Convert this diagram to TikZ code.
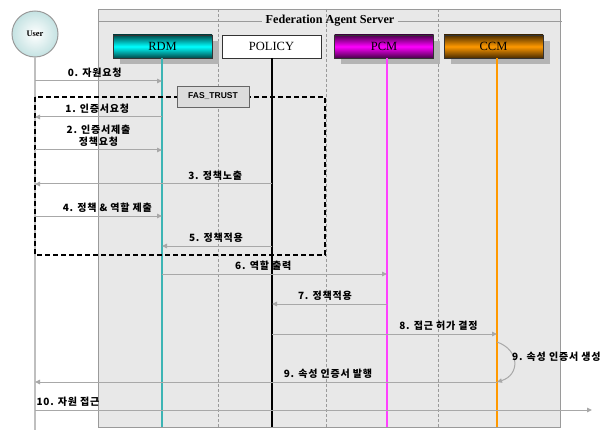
\documentclass[tikz,border=0pt]{standalone}
\usepackage{fontspec}
\setmainfont{Liberation Serif}
\newfontfamily\cjk{Noto Sans CJK KR}[LetterSpace=8]
\newfontfamily\lsans{Liberation Sans}
\usetikzlibrary{arrows.meta}
\definecolor{srvbg}{HTML}{E8E8E8}
\definecolor{srvline}{HTML}{9A9A9A}
\definecolor{msggray}{HTML}{A8A8A8}
\definecolor{shadowgray}{HTML}{B4B4B4}
\definecolor{rdmline}{HTML}{3CB4B4}
\definecolor{pcmline}{HTML}{FF40FF}
\definecolor{ccmline}{HTML}{FF9900}
\definecolor{rdmdark}{HTML}{004A4A}
\definecolor{pcmdark}{HTML}{4A004A}
\definecolor{ccmdark}{HTML}{4A2C00}
\definecolor{userfill}{HTML}{C4E2E2}
\definecolor{fasfill}{HTML}{DCDCDC}
\tikzset{
  msg/.style={draw=msggray, line width=1pt, -{Triangle[length=5pt,width=4.5pt]}},
  lbl/.style={font=\cjk\bfseries\fontsize{10}{12}\selectfont, inner sep=1pt, above=2pt, text=black},
  compbox/.style={minimum width=99pt, minimum height=23pt, inner sep=0pt, draw=black!80, line width=0.8pt, font=\fontsize{12.5}{14}\selectfont},
  shadowbox/.style={fill=shadowgray, draw=none},
  sep/.style={draw=srvline, dashed, dash pattern=on 3pt off 2pt, line width=0.6pt},
  trustbox/.style={draw=black, dashed, dash pattern=on 5pt off 3pt, line width=1.2pt}
}
\begin{document}
\begin{tikzpicture}[x=1pt, y=-1pt]
\useasboundingbox (0,0) rectangle (609,430);
% server background
\draw[fill=srvbg, draw=srvline, line width=0.8pt] (98,9) rectangle (560,427);
\foreach \xx in {218,326,438} \draw[sep] (\xx,9) -- (\xx,427);
\node[font=\bfseries\fontsize{12.2}{14}\selectfont, inner sep=3pt] (title) at (330,21) {Federation Agent Server};
\draw[srvline, line width=0.8pt] (99,21) -- (title.west);
\draw[srvline, line width=0.8pt] (title.east) -- (562,21);
% shadows
\fill[shadowgray] (119.5,41) rectangle (218.5,64);
\fill[shadowgray] (341,41) rectangle (440,64);
\fill[shadowgray] (451,41) rectangle (550,64);
% components
\node[compbox, shading=axis, top color=rdmdark, bottom color=rdmdark, middle color=cyan] (rdm) at (162.5,46.5) {RDM};
\node[compbox, fill=white] (pol) at (271.5,46.5) {POLICY};
\node[compbox, shading=axis, top color=pcmdark, bottom color=pcmdark, middle color=magenta] (pcm) at (384,46.5) {PCM};
\node[compbox, shading=axis, top color=ccmdark, bottom color=ccmdark, middle color=ccmline] (ccm) at (493.5,46.5) {CCM};
% user
\node[circle, minimum size=46pt, inner sep=0pt, draw=srvline, line width=1pt, inner color=white, outer color=userfill, font=\bfseries\fontsize{8.5}{10}\selectfont] (user) at (35,34) {User};
% lifeline anchors
\coordinate (Lu) at (35,58);
\coordinate (Lr) at (162,58);
\coordinate (Lp) at (272,58);
\coordinate (Lm) at (387,58);
\coordinate (Lc) at (497,58);
\draw[draw=black!25, line width=1.5pt] (user.south) -- (35,430);
\draw[rdmline, line width=1.5pt] (Lr) -- (162,427);
\draw[black, line width=1.2pt] (Lp) -- (272,427);
\draw[pcmline, line width=1.5pt] (Lm) -- (387,427);
\draw[ccmline, line width=1.5pt] (Lc) -- (497,427);
% trust region
\draw[trustbox] (35,97) rectangle (325,255);
\node[draw=black!60, fill=fasfill, line width=0.8pt, minimum width=72pt, minimum height=21pt, inner sep=0pt, font=\lsans\bfseries\fontsize{8.5}{10}\selectfont] (fas) at (213,96.5) {FAS\_TRUST};
% messages
\draw[msg] (Lu |- 0,81) -- node[lbl, pos=0.47] {0. 자원요청} (Lr |- 0,81);
\draw[msg] (Lr |- 0,117) -- node[lbl, pos=0.51] {1. 인증서요청} (Lu |- 0,117);
\draw[msg] (Lu |- 0,150) -- node[lbl, pos=0.5, align=center] {2. 인증서제출\\정책요청} (Lr |- 0,150);
\draw[msg] (Lp |- 0,184) -- node[lbl, pos=0.24] {3. 정책노출} (Lu |- 0,184);
\draw[msg] (Lu |- 0,216) -- node[lbl, pos=0.57] {4. 정책 \& 역할 제출} (Lr |- 0,216);
\draw[msg] (Lp |- 0,246) -- node[lbl, pos=0.51] {5. 정책적용} (Lr |- 0,246);
\draw[msg] (Lr |- 0,274) -- node[lbl, pos=0.45] {6. 역할 출력} (Lm |- 0,274);
\draw[msg] (Lm |- 0,304) -- node[lbl, pos=0.54] {7. 정책적용} (Lp |- 0,304);
\draw[msg] (Lp |- 0,334) -- node[lbl, pos=0.74] {8. 접근 허가 결정} (Lc |- 0,334);
\draw[msg] (Lc |- 0,342) .. controls (520,350) and (520,375) .. (Lc |- 0,382);
\node[font=\cjk\bfseries\fontsize{10}{12}\selectfont, inner sep=1pt, anchor=west] (l9a) at (511,357) {9. 속성 인증서 생성};
\draw[msg] (Lc |- 0,382) -- node[lbl, pos=0.366] {9. 속성 인증서 발행} (Lu |- 0,382);
\coordinate (exit) at (592,410);
\draw[msg] (Lu |- 0,410) -- node[lbl, pos=0, anchor=south west] {10. 자원 접근} (exit);
\end{tikzpicture}
\end{document}
